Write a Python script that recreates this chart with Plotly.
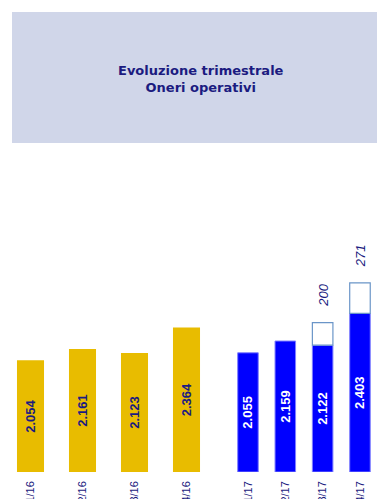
import plotly.graph_objects as go

# Data
cats_16 = ["1/16", "2/16", "3/16", "4/16"]
vals_16 = [2054, 2161, 2123, 2364]
cats_17 = ["1/17", "2/17", "3/17", "4/17"]
vals_17 = [2055, 2159, 2122, 2403]
extra_17 = [None, None, 200, 271]
Y_MIN = 1000  # value axis starts here

title_text = "Evoluzione trimestrale<br>Oneri operativi"

NAVY = "#1B1B80"
YELLOW = "#E8BC00"
BLUE = "#0000FF"
FONT = "Arial, Liberation Sans, sans-serif"

def fmt(v):
    return f"{v:,}".replace(",", ".")

W, H = 377, 499
mt, mb = 160, 27
ph = H - mt - mb

fig = go.Figure()

fig.add_trace(go.Bar(
    x=cats_16, y=[v - Y_MIN for v in vals_16], base=Y_MIN, xaxis="x", yaxis="y",
    marker=dict(color=YELLOW, line=dict(width=0)),
    width=0.52,
    text=[fmt(v) for v in vals_16], textposition="inside",
    insidetextanchor="middle", textangle=-90,
    textfont=dict(family=FONT, size=13, color=NAVY, weight="bold"),
    constraintext="none",
))

fig.add_trace(go.Bar(
    x=cats_17, y=[v - Y_MIN for v in vals_17], base=Y_MIN, xaxis="x2", yaxis="y2",
    marker=dict(color=BLUE, line=dict(width=1, color="#7F7FFF")),
    width=0.55,
    text=[fmt(v) for v in vals_17], textposition="inside",
    insidetextanchor="middle", textangle=-90,
    textfont=dict(family=FONT, size=13, color="white", weight="bold"),
    constraintext="none",
))

fig.add_trace(go.Bar(
    x=cats_17, y=extra_17, base=vals_17, xaxis="x2", yaxis="y2",
    marker=dict(color="white", line=dict(width=1.2, color="#6A95C8")),
    width=0.55,
))

for c, v, e in zip(cats_17, vals_17, extra_17):
    if e is not None:
        fig.add_annotation(
            x=c, y=v + e, xref="x2", yref="y2", text=str(e),
            textangle=-90, showarrow=False, xanchor="center", yanchor="bottom", yshift=14,
            font=dict(family=FONT, size=13, color=NAVY, style="italic"),
        )

# title box
fig.add_shape(type="rect", xref="paper", yref="paper",
              x0=12 / W, x1=1, y0=(H - mb - 143) / ph, y1=(H - mb - 12) / ph,
              fillcolor="#D0D6E9", line=dict(width=0), layer="below")
fig.add_annotation(xref="paper", yref="paper", x=200.5 / W, y=(H - mb - 78.5) / ph,
                   xanchor="center", yanchor="middle",
                   text=title_text, showarrow=False,
                   font=dict(family="DejaVu Sans", size=13, color=NAVY, weight="bold"))

tickfont = dict(family=FONT, size=11, color=NAVY)
fig.update_layout(
    width=W, height=H,
    margin=dict(l=0, r=0, t=mt, b=mb, pad=0, autoexpand=False),
    paper_bgcolor="white", plot_bgcolor="white",
    showlegend=False, barmode="overlay",
    xaxis=dict(domain=[4.5 / W, 212.5 / W], type="category", anchor="y",
               tickangle=-90, tickfont=tickfont, showgrid=False, zeroline=False,
               showline=False, ticks="", ticklabelstandoff=6, automargin=False),
    xaxis2=dict(domain=[229.3 / W, 1], type="category", anchor="y2",
                range=[-0.5, 3.456],
                tickangle=-90, tickfont=tickfont, showgrid=False, zeroline=False,
                showline=False, ticks="", ticklabelstandoff=6, automargin=False),
    yaxis=dict(range=[Y_MIN, Y_MIN + ph / 0.106], visible=False, anchor="x", automargin=False),
    yaxis2=dict(range=[Y_MIN, Y_MIN + ph / 0.113], visible=False, overlaying="y", anchor="x2",
                automargin=False),
)

fig.write_html("out.html")
